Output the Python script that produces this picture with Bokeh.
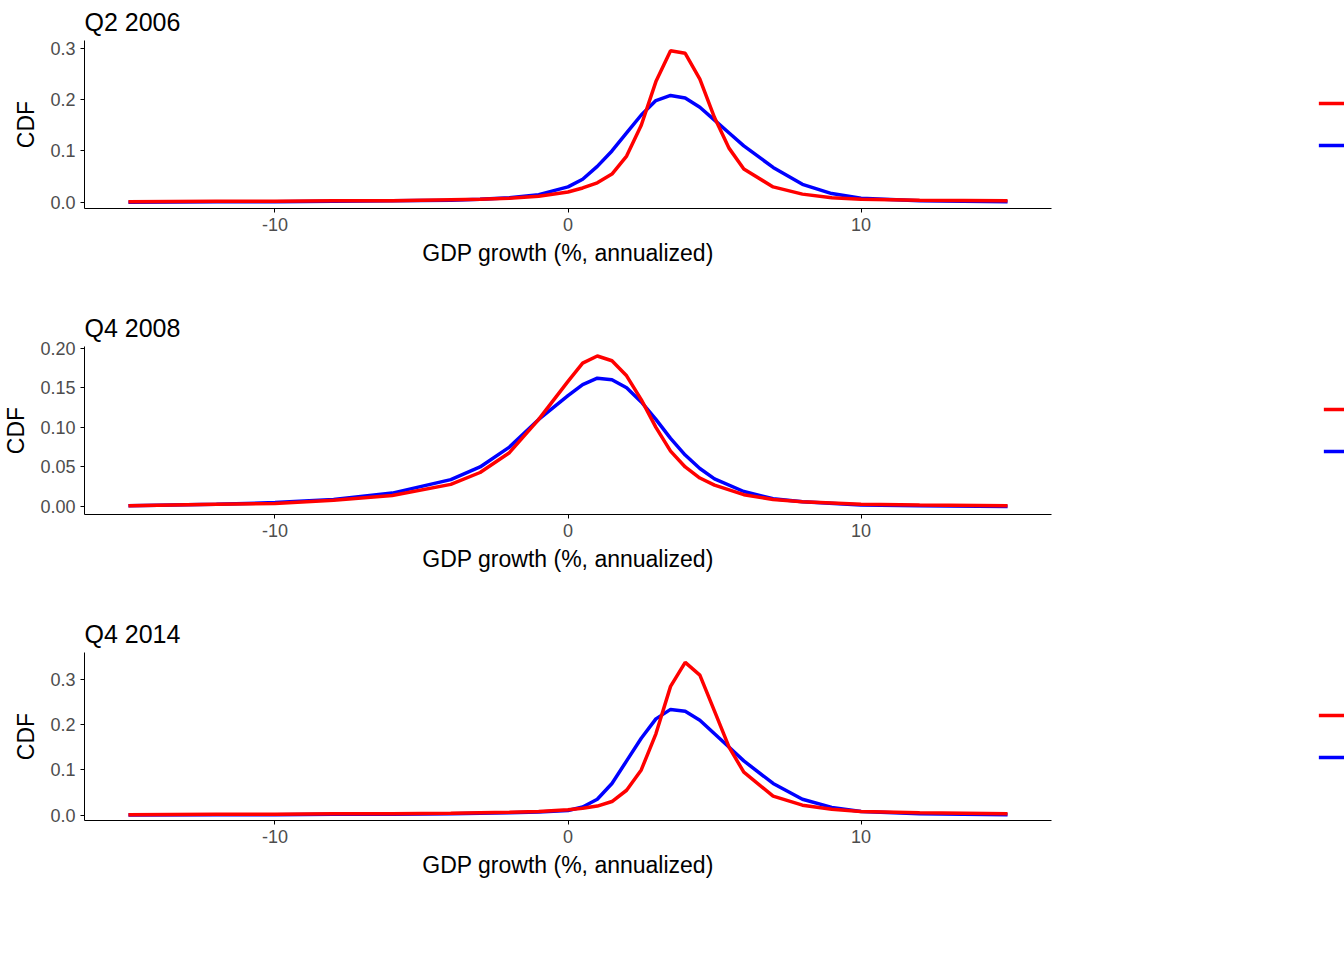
from bokeh.plotting import figure
from bokeh.layouts import column
from bokeh.models import Legend, LegendItem, FixedTicker, NumeralTickFormatter
from bokeh.embed import file_html
from bokeh.resources import INLINE

# GDP growth grid (%, annualized)
x1 = [-15, -12, -10, -8, -6, -4, -3, -2, -1, 0, 0.5, 1, 1.5, 2, 2.5, 3, 3.5, 4, 4.5, 5, 5.5, 6, 7, 8, 9, 10, 12, 15]
red1 = [0.001, 0.002, 0.002, 0.003, 0.003, 0.005, 0.006, 0.008, 0.012, 0.02, 0.028, 0.038, 0.055, 0.09, 0.15, 0.235, 0.295, 0.29, 0.24, 0.165, 0.105, 0.065, 0.03, 0.016, 0.009, 0.006, 0.004, 0.003]
blue1 = [0.0, 0.001, 0.001, 0.002, 0.003, 0.004, 0.006, 0.009, 0.015, 0.03, 0.045, 0.07, 0.1, 0.135, 0.17, 0.198, 0.208, 0.203, 0.185, 0.16, 0.135, 0.11, 0.068, 0.035, 0.017, 0.008, 0.003, 0.001]

x2 = [-15, -12, -10, -8, -6, -4, -3, -2, -1, 0, 0.5, 1, 1.5, 2, 2.5, 3, 3.5, 4, 4.5, 5, 6, 7, 8, 10, 12, 15]
red2 = [0.001, 0.003, 0.004, 0.008, 0.014, 0.028, 0.043, 0.068, 0.11, 0.158, 0.181, 0.19, 0.184, 0.165, 0.135, 0.1, 0.07, 0.05, 0.036, 0.027, 0.015, 0.009, 0.006, 0.003, 0.002, 0.001]
blue2 = [0.001, 0.003, 0.005, 0.009, 0.017, 0.034, 0.05, 0.075, 0.11, 0.14, 0.154, 0.162, 0.16, 0.15, 0.132, 0.11, 0.086, 0.065, 0.048, 0.035, 0.019, 0.01, 0.006, 0.002, 0.001, 0.0]

x3 = [-15, -12, -10, -8, -6, -4, -3, -2, -1, 0, 0.5, 1, 1.5, 2, 2.5, 3, 3.5, 4, 4.5, 5, 5.5, 6, 7, 8, 9, 10, 12, 15]
red3 = [0.001, 0.002, 0.002, 0.003, 0.003, 0.004, 0.005, 0.006, 0.008, 0.012, 0.015, 0.02, 0.03, 0.055, 0.1, 0.18, 0.285, 0.338, 0.31, 0.23, 0.15, 0.095, 0.042, 0.022, 0.013, 0.008, 0.005, 0.003]
blue3 = [0.0, 0.001, 0.001, 0.002, 0.002, 0.003, 0.004, 0.005, 0.007, 0.01, 0.018, 0.035, 0.07, 0.12, 0.17, 0.213, 0.234, 0.23, 0.21, 0.18, 0.15, 0.12, 0.07, 0.035, 0.017, 0.008, 0.003, 0.001]

titles = ["Q2 2006", "Q4 2008", "Q4 2014"]
yticks = [[0.0, 0.1, 0.2, 0.3], [0.0, 0.05, 0.10, 0.15, 0.20], [0.0, 0.1, 0.2, 0.3]]
yfmt = ["0.0", "0.00", "0.0"]
ylims = [(-0.012, 0.315), (-0.01, 0.202), (-0.012, 0.36)]
FONT = "Liberation Sans"


def panel(i, x, red, blue):
    p = figure(frame_width=967, frame_height=168, output_backend="svg", toolbar_location=None,
               x_range=(-16.5, 16.5), y_range=ylims[i], title=titles[i],
               x_axis_label="GDP growth (%, annualized)", y_axis_label="CDF",
               min_border_right=10, min_border_left=10, min_border_top=10, min_border_bottom=12)
    p.title.text_font = FONT
    p.title.text_font_size = "25px"
    p.title.text_font_style = "normal"
    p.title.text_color = "black"
    p.title.offset = 0
    b = p.line(x, blue, color="blue", line_width=3.5)
    r = p.line(x, red, color="red", line_width=3.5)
    p.xgrid.visible = False
    p.ygrid.visible = False
    p.outline_line_color = None
    p.xaxis.ticker = FixedTicker(ticks=[-10, 0, 10])
    p.xaxis.formatter = NumeralTickFormatter(format="0")
    p.yaxis.ticker = FixedTicker(ticks=yticks[i])
    p.yaxis.formatter = NumeralTickFormatter(format=yfmt[i])
    for ax in (p.xaxis[0], p.yaxis[0]):
        ax.axis_label_text_font = FONT
        ax.axis_label_text_font_size = "23px"
        ax.axis_label_text_font_style = "normal"
        ax.axis_label_text_color = "black"
        ax.major_label_text_font = FONT
        ax.major_label_text_font_size = "18px"
        ax.major_label_text_color = "#4d4d4d"
        ax.minor_tick_line_color = None
        ax.major_tick_out = 4
        ax.major_tick_in = 0
        ax.axis_line_color = "black"
    p.yaxis.axis_label_standoff = 8
    p.xaxis.axis_label_standoff = 6
    legend = Legend(items=[LegendItem(label="Constrained", renderers=[r]),
                           LegendItem(label="Unconstrained", renderers=[b])],
                    location="center", border_line_color=None,
                    label_text_font=FONT, label_text_font_size="21px",
                    label_text_color="black",
                    glyph_width=36, spacing=18, label_standoff=20, margin=40)
    p.add_layout(legend, "right")
    return p


p = column(panel(0, x1, red1, blue1), panel(1, x2, red2, blue2), panel(2, x3, red3, blue3), spacing=38)

open("out.html", "w").write(file_html(p, INLINE))
